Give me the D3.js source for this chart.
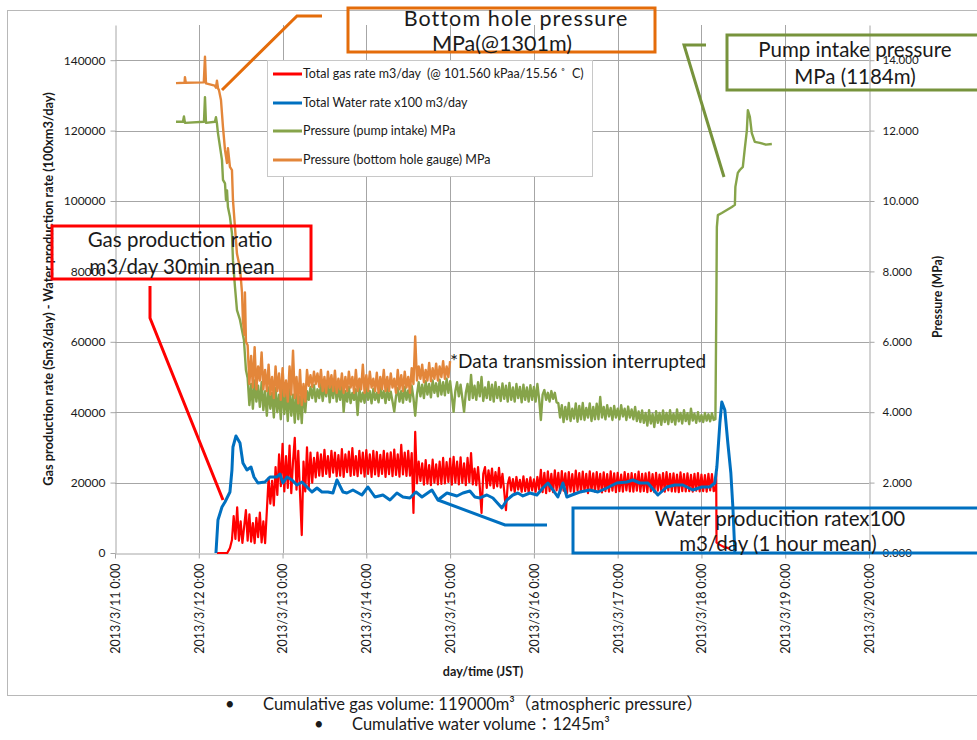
<!DOCTYPE html>
<html><head><meta charset="utf-8">
<script src="https://cdn.jsdelivr.net/npm/d3@7"></script>
<style>
body{margin:0;background:#fff;}
svg{display:block;}
text{font-family:Lato,"Noto Sans","Noto Sans CJK JP",sans-serif;fill:#1a1a1a;}
</style></head><body>
<svg id="c" width="977" height="740"></svg>
<script>
// ---------- DATA ----------
const xTickDays = [11,12,13,14,15,16,17,18,19,20];
const xTickLabels = ["2013/3/11 0:00","2013/3/12 0:00","2013/3/13 0:00","2013/3/14 0:00","2013/3/15 0:00",
  "2013/3/16 0:00","2013/3/17 0:00","2013/3/18 0:00","2013/3/19 0:00","2013/3/20 0:00"];
const leftTicks = [0,20000,40000,60000,80000,100000,120000,140000];
const rightTicks = [0,2,4,6,8,10,12,14];
const seriesNames = ["Total gas rate m3/day  (@ 101.560 kPaa/15.56 \u02da  C)","Total Water rate x100 m3/day",
  "Pressure (pump intake) MPa","Pressure (bottom hole gauge) MPa"];

// Gas rate (Sm3/day): early points, 30-min samples (start hour after 2013/3/11 0:00), late points
const gasEarlyT = [12.217,12.34,12.372,12.396];
const gasEarlyV = [0,0,1420,3700];
const gasStartHour = 34;
const gasHalfHourV = [
 10500,4000,13000,3500,9000,2900,7500,12200,3500,11000,
 3200,8500,2800,10000,4500,11500,3000,9000,2800,12000,
 21300,14000,20500,13500,24400,16500,28000,19000,31000,17500,
 27500,18500,30500,17000,26000,32700,18000,29000,17000,5100,
 26000,17500,30000,18500,28500,20000,27000,21500,28500,22000,
 28000,21800,29300,22500,27500,21600,29000,22800,28500,21800,
 27800,22000,29500,21600,28000,23000,28800,21900,29800,22200,
 27500,21800,29000,22600,28500,21700,29200,22500,28000,21600,
 29000,22300,28700,21800,27900,22500,29000,21600,28300,22400,
 28600,21800,29400,22200,28000,21700,30700,22300,28500,21900,
 29000,22000,28400,11400,34400,19800,26000,20500,25500,19400,
 26400,19700,25000,19300,26500,20000,25200,19500,26000,19600,
 27000,19800,25800,20200,26800,19400,27300,20000,26000,19500,
 27200,19900,25500,19300,27000,20100,28400,19500,24000,19300,
 24400,18800,11400,22500,24400,18500,23500,19200,24000,18400,
 23000,18900,24200,18600,22500,17500,12200,19500,21500,17800,
 21000,17300,21600,18000,20800,17400,21800,17600,21000,17200,
 21500,17800,20900,17400,21600,18000,23600,17300,22800,17000,
 23200,17600,22500,17300,23500,17800,22800,17100,23300,17700,
 22600,17000,23000,17500,22400,17200,23400,17800,22700,17300,
 23100,17600,22500,17000,23200,17700,22600,17400,23000,17800,
 22500,17200,22900,17600,22400,17400,23200,17700,22600,17300,
 22800,17600,22300,17400,23000,17800,22500,17500,22700,17400,
 22400,17700,23100,17400,22500,17600,22600,17300,22900,17600,
 22400,17300,22800,17700,22300,17500,22700,17400,23000,17800,
 22500,17500,22600,17400,22300,17300,22900,17600,22400,17500,
 22600,17600,22200,17400,22500,17700,22700,17500,22300,17600,
 22100,17400,22500,17800,22400,17600,18000];
const gasLateT = [18.176,18.18,18.2,18.26,18.33];
const gasLateV = [22700,3000,2600,1800,1300];

// Water rate (x100 m3/day), 1 hour mean
const waterT = [12.205,12.229,12.277,12.313,12.372,12.396,12.408,12.444,12.492,12.527,12.575,12.623,12.659,12.706,
 12.790,12.850,12.933,12.969,13.005,13.053,13.112,13.172,13.232,13.291,13.351,13.411,13.470,13.542,13.601,13.649,
 13.721,13.768,13.840,13.947,14.019,14.103,14.198,14.282,14.365,14.437,14.520,14.592,14.664,14.783,14.854,14.962,
 15.081,15.153,15.236,15.296,15.356,15.439,15.511,15.618,15.678,15.749,15.809,15.869,15.952,16.036,16.107,16.167,
 16.227,16.286,16.346,16.394,16.453,16.549,16.668,16.764,16.871,16.990,17.110,17.181,17.265,17.360,17.480,17.587,
 17.683,17.778,17.897,18.005,18.100,18.160,18.184,18.220,18.243,18.279,18.315,18.351,18.375,18.399];
const waterV = [0,9375,13069,14489,17330,23580,30115,33240,31251,25569,23580,24433,21592,19887,
 20171,21592,21592,22444,19887,21592,20739,19319,20171,18751,17330,18467,17330,17330,17046,20739,
 17330,17046,17898,16478,18751,15910,16478,15057,17046,15910,15626,17330,15910,17898,15057,17046,
 16194,17046,17614,15910,15626,16478,15626,12785,15057,16478,17046,16194,17046,16478,18467,19887,
 17898,15910,19887,15910,16478,17330,17898,17330,18467,19887,20171,20739,19887,19887,16478,18751,
 19319,19319,17898,18751,18751,19887,24433,36933,42899,40626,31251,22728,13069,0];

// Pump intake pressure (MPa)
const pumpEarlyT = [11.728,11.811,11.823,11.835,12.062,12.074,12.086,12.193,12.205,12.217,12.229,12.277,12.289,
 12.313,12.325,12.337,12.348,12.372,12.396,12.408,12.432,12.456,12.492,12.539,12.563];
const pumpEarlyV = [12.25,12.25,12.4,12.22,12.25,12.95,12.22,12.25,12.38,12.2,11.93,11.16,10.6,
 10.5,10.03,10.3,9.83,9.55,9.09,8.32,7.56,6.9,6.62,6.05,5.2];
const pumpStartHour = 38;
const pumpHalfHourV = [
 4.97,4.2,4.8,4.1,4.9,4.3,4.75,4.15,4.85,4.06,
 4.6,3.9,4.7,4.1,4.55,3.85,4.68,4.0,4.5,3.8,
 4.72,3.95,4.55,3.75,4.65,3.9,4.5,3.7,4.6,3.8,
 4.45,3.69,4.7,4.0,4.6,4.35,4.72,4.4,4.77,4.3,
 4.65,4.4,4.8,4.32,4.7,4.45,4.9,4.28,4.75,4.4,
 4.88,4.3,4.7,4.35,4.85,4.01,4.6,4.3,4.72,4.26,
 4.55,4.35,4.65,3.92,4.68,4.3,4.55,4.27,4.7,4.35,
 4.6,4.25,4.66,4.35,4.55,4.28,4.7,4.4,4.6,4.26,
 4.68,4.35,4.58,4.3,4.02,4.45,4.68,4.3,4.6,4.27,
 4.72,4.35,4.62,4.3,4.75,4.4,3.9,4.5,4.85,4.45,
 4.78,4.4,4.88,4.5,4.8,4.42,4.9,4.55,4.82,4.45,
 4.92,4.5,4.85,4.48,4.95,4.55,4.88,4.45,4.01,4.6,
 4.85,4.45,4.78,4.4,4.01,4.55,4.8,4.35,5.06,4.4,
 4.75,4.35,4.85,4.45,5.0,4.32,4.7,4.4,4.86,4.35,
 4.78,4.3,4.85,4.4,4.72,4.32,4.82,4.38,4.75,4.3,
 4.83,4.35,4.7,4.3,4.8,4.4,4.72,4.28,4.78,4.35,
 4.7,4.3,4.77,4.35,4.72,4.3,4.8,4.38,3.78,4.5,
 4.63,4.35,4.55,4.3,4.6,4.38,4.55,4.28,4.26,3.85,
 4.2,3.72,4.15,3.8,4.26,3.75,4.1,3.82,4.25,3.73,
 4.18,3.8,4.26,3.78,4.12,3.85,4.25,3.75,4.15,3.8,
 4.24,3.8,4.43,3.85,4.15,3.8,4.2,3.88,4.12,3.78,
 4.18,3.85,4.1,3.8,4.2,3.88,4.1,3.78,4.16,3.85,
 4.08,3.8,4.15,3.75,4.02,3.72,4.05,3.7,3.98,3.62,
 4.06,3.68,3.95,3.58,4.03,3.7,3.98,3.64,4.05,3.72,
 3.98,3.66,4.06,3.72,3.96,3.65,4.08,3.74,3.98,3.68,
 4.06,3.75,3.97,3.66,4.1,3.76,3.96,3.7,4.0,3.74,
 3.92,3.72,3.98,3.76,3.94,3.74,3.97,3.78,3.8];
const pumpLateT = [18.178,18.184,18.196,18.243,18.363,18.399,18.405,18.434,18.458,18.494,18.518,18.542,18.554,
 18.578,18.601,18.637,18.697,18.77,18.84];
const pumpLateV = [7.1,9.26,9.6,9.66,9.83,9.89,10.4,10.8,10.88,10.97,11.5,12.0,12.58,
 12.39,11.93,11.68,11.65,11.6,11.62];

// Bottom hole gauge pressure (MPa)
const bhEarlyT = [11.728,11.83,11.835,11.845,12.06,12.074,12.086,12.19,12.205,12.217,12.23,12.241,12.265,12.289,
 12.313,12.337,12.348,12.372,12.396,12.408,12.432,12.456,12.492,12.516,12.527,12.545,12.551,12.563];
const bhEarlyV = [13.35,13.36,13.52,13.36,13.37,14.1,13.34,13.28,13.22,13.42,13.2,13.15,12.87,12.1,
 11.45,11.08,11.5,10.97,10.88,10.03,9.26,8.5,8.1,7.4,6.6,6.2,7.4,6.0];
const bhStartHour = 38;
const bhHalfHourV = [
 5.9,4.8,5.6,4.7,5.85,4.65,5.3,4.9,5.7,4.65,
 5.2,4.6,5.35,4.5,5.0,4.4,5.3,4.6,5.1,4.35,
 5.25,4.45,4.9,4.3,5.3,4.5,5.75,4.4,5.0,4.25,
 5.2,4.2,4.8,4.3,5.2,4.75,5.05,4.72,5.15,4.8,
 5.1,4.72,5.2,4.6,5.0,4.55,5.15,4.7,5.05,4.6,
 5.18,4.55,4.95,4.65,5.1,4.55,5.0,4.6,5.15,4.7,
 5.0,4.55,5.2,4.6,4.95,4.65,5.35,4.55,5.05,4.6,
 5.15,4.7,4.95,4.6,5.12,4.55,5.0,4.65,5.2,4.6,
 5.0,4.6,5.1,4.7,4.95,4.55,5.2,4.65,5.05,4.6,
 5.15,4.7,5.0,4.55,5.25,4.8,6.15,4.9,5.3,4.95,
 5.35,4.85,5.2,4.9,5.4,4.88,5.25,4.95,5.38,4.9,
 5.3,5.0,5.45,4.95,5.3,5.0,5.45];

// ---------- BUILD ----------
const toPts = (T,V)=>T.map((t,i)=>[t,V[i]]);
const halfHourPts = (h0,V)=>V.map((v,i)=>[11+(h0+i*0.5)/24,v]);
const gas = [...toPts(gasEarlyT,gasEarlyV),...halfHourPts(gasStartHour,gasHalfHourV),...toPts(gasLateT,gasLateV)];
const water = toPts(waterT,waterV);
const pump = [...toPts(pumpEarlyT,pumpEarlyV),...halfHourPts(pumpStartHour,pumpHalfHourV),...toPts(pumpLateT,pumpLateV)];
const bh = [...toPts(bhEarlyT,bhEarlyV),...halfHourPts(bhStartHour,bhHalfHourV)];

const C = {red:"#FF0000",blue:"#0070C0",green:"#86A44A",orange:"#E3863A",
  lOrange:"#E46C0A",lGreen:"#77933C",grid:"#a6a6a6"};

const svg = d3.select("#c");
const x = d3.scaleLinear().domain([11,20]).range([115,869]);
const yL = d3.scaleLinear().domain([0,150000]).range([553,25]);
const yR = d3.scaleLinear().domain([0,15]).range([553,25]);

// outer chart border
svg.append("rect").attr("x",7.5).attr("y",10.5).attr("width",990).attr("height",685)
  .attr("fill","#fff").attr("stroke","#b8b8b8");

// gridlines
const g = svg.append("g");
g.selectAll(".hg").data(leftTicks.filter(d=>d>0)).join("line")
  .attr("x1",x(11)).attr("x2",x(20)).attr("y1",d=>Math.round(yL(d))+0.5).attr("y2",d=>Math.round(yL(d))+0.5)
  .attr("stroke",C.grid);
g.selectAll(".vg").data(xTickDays.slice(1,-1)).join("line")
  .attr("y1",yL(150000)).attr("y2",yL(0)).attr("x1",d=>Math.round(x(d))+0.5).attr("x2",d=>Math.round(x(d))+0.5)
  .attr("stroke",C.grid);

// axes
function styleAxis(sel){
  sel.selectAll("path,line").attr("stroke",C.grid);
  sel.selectAll("text").style("font-size","12px").attr("fill","#222");
}
const axL = svg.append("g").attr("transform","translate(115.5,0)")
  .call(d3.axisLeft(yL).tickValues(leftTicks).tickSize(5).tickSizeOuter(0).tickPadding(5).tickFormat(d3.format("d")));
styleAxis(axL);
const axR = svg.append("g").attr("transform","translate(869.5,0)")
  .call(d3.axisRight(yR).tickValues(rightTicks).tickSize(5).tickSizeOuter(0).tickPadding(8).tickFormat(d3.format(".3f")));
styleAxis(axR);
axR.selectAll("text").style("font-size","11.5px");
const axB = svg.append("g").attr("transform","translate(0,553.5)")
  .call(d3.axisBottom(x).tickValues(xTickDays).tickSize(5).tickSizeOuter(0).tickFormat((d,i)=>xTickLabels[i]));
styleAxis(axB);
axB.selectAll("text").attr("transform","rotate(-90)").attr("text-anchor","end")
  .attr("x",-10).attr("y",0).attr("dy","0.35em").style("font-size","12.5px");

// axis titles
svg.append("text").attr("x",483).attr("y",676).attr("text-anchor","middle")
  .style("font-size","12.6px").style("font-weight","bold").text("day/time (JST)");
svg.append("text").attr("transform","translate(53,289) rotate(-90)").attr("text-anchor","middle")
  .style("font-size","12.8px").style("font-weight","bold")
  .text("Gas production rate (Sm3/day) - Water production rate (100xm3/day)");
svg.append("text").attr("transform","translate(942,297) rotate(-90)").attr("text-anchor","middle")
  .style("font-size","12.3px").style("font-weight","bold").text("Pressure (MPa)");

// series
const lineL = d3.line().x(d=>x(d[0])).y(d=>yL(d[1]));
const lineR = d3.line().x(d=>x(d[0])).y(d=>yR(d[1]));
const plot = svg.append("g").attr("fill","none").attr("stroke-linejoin","round");
plot.append("path").attr("d",lineL(gas)).attr("stroke",C.red).attr("stroke-width",2.2);
plot.append("path").attr("d",lineL(water)).attr("stroke",C.blue).attr("stroke-width",3);
plot.append("path").attr("d",lineR(pump)).attr("stroke",C.green).attr("stroke-width",2.4);
plot.append("path").attr("d",lineR(bh)).attr("stroke",C.orange).attr("stroke-width",2.4);

// legend
const lg = svg.append("g");
lg.append("rect").attr("x",267.5).attr("y",60.5).attr("width",325).attr("height",116)
  .attr("fill","#fff").attr("stroke","#c8c8c8");
const legCols = [C.red,C.blue,C.green,C.orange];
const legY = [74,103,131,160];
seriesNames.forEach((n,i)=>{
  lg.append("line").attr("x1",273).attr("x2",302).attr("y1",legY[i]).attr("y2",legY[i])
    .attr("stroke",legCols[i]).attr("stroke-width",3);
  lg.append("text").attr("x",303).attr("y",legY[i]).attr("dy","0.35em").style("font-size","12.5px")
    .style("white-space","pre").text(n);
});

// annotations
const ann = svg.append("g").attr("fill","none").attr("stroke-width",3);
const poly = d3.line();
ann.append("path").attr("d",poly([[222,90],[297,16],[322,16]])).attr("stroke",C.lOrange);
ann.append("rect").attr("x",348).attr("y",8).attr("width",307).attr("height",44).attr("stroke",C.lOrange);
ann.append("path").attr("d",poly([[706,45],[684,45],[724,177]])).attr("stroke",C.lGreen);
ann.append("rect").attr("x",727).attr("y",35).attr("width",300).attr("height",55).attr("stroke",C.lGreen);
ann.append("path").attr("d",poly([[150,286],[150,318],[223,500]])).attr("stroke",C.red);
ann.append("rect").attr("x",52).attr("y",226).attr("width",259).attr("height",53).attr("stroke",C.red);
ann.append("path").attr("d",poly([[438,500],[505,525],[547,525]])).attr("stroke",C.blue);
ann.append("rect").attr("x",573).attr("y",508).attr("width",450).attr("height",45).attr("stroke",C.blue);

const at = svg.append("g").attr("text-anchor","middle");
[["Bottom hole pressure",516,26,21.5,1.1],["MPa(@1301m)",502,51,21.5,0],
 ["Pump intake pressure",855,57,20.5,0],["MPa (1184m)",855,84,20.5,0],
 ["Gas production ratio",180,247,20.5,0],["m3/day 30min mean",182,274,20.5,0],
 ["Water producition ratex100",780,526,20.5,0],["m3/day (1 hour mean)",778,551,20.5,0]].forEach(d=>{
  at.append("text").attr("x",d[1]).attr("y",d[2]).style("font-size",d[3]+"px")
    .style("letter-spacing",d[4]+"px").text(d[0]);
});
svg.append("text").attr("x",450).attr("y",368).style("font-size","19px").text("*Data transmission interrupted");

// footnotes
const fn = svg.append("g").style("font-size","16.5px");
fn.append("text").attr("x",225).attr("y",710).text("\u2022");
fn.append("text").attr("x",263).attr("y",710).text("Cumulative gas volume: 119000m\u00b3\uff08atmospheric pressure\uff09");
fn.append("text").attr("x",314).attr("y",730).text("\u2022");
fn.append("text").attr("x",352).attr("y",730).text("Cumulative water volume\uff1a1245m\u00b3");
</script>
</body></html>
